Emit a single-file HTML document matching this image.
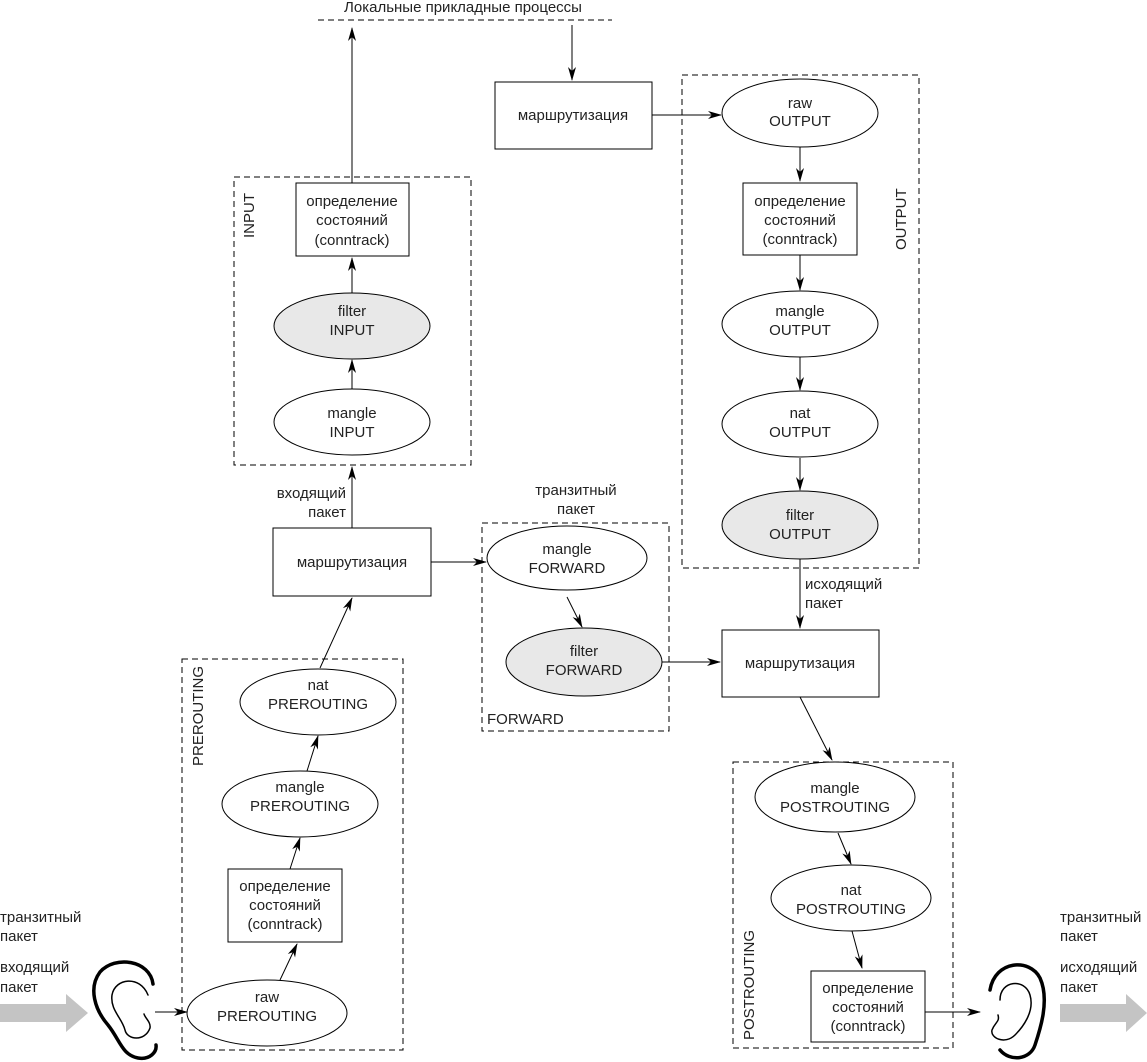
<!DOCTYPE html>
<html><head><meta charset="utf-8"><style>
html,body{margin:0;padding:0;background:#fff;}
svg{display:block;}
text{font-family:"Liberation Sans","DejaVu Sans",sans-serif;font-size:15px;fill:#222;}
</style></head><body>
<svg width="1147" height="1062" viewBox="0 0 1147 1062" xmlns="http://www.w3.org/2000/svg">
<defs>
<marker id="a" markerWidth="14" markerHeight="10" refX="13" refY="5" orient="auto" markerUnits="userSpaceOnUse">
<path d="M0,1 L14,5 L0,9 L4,5 Z" fill="#000"/>
</marker>
</defs>
<g fill="none" stroke="#000" stroke-width="1">
<g stroke-dasharray="6,4">
<line x1="318" y1="20" x2="612" y2="20"/>
<rect x="234" y="177" width="237" height="288"/>
<rect x="682" y="75" width="237" height="493"/>
<rect x="482" y="523" width="187" height="208"/>
<rect x="182" y="659" width="221" height="391"/>
<rect x="733" y="762" width="220" height="286"/>
</g>
<rect x="495" y="82" width="157" height="67"/>
<rect x="296" y="183" width="113" height="73"/>
<rect x="743" y="183" width="114" height="72"/>
<rect x="273" y="528" width="158" height="68"/>
<rect x="722" y="630" width="157" height="67"/>
<rect x="228" y="869" width="114" height="73"/>
<rect x="811" y="971" width="114" height="71"/>
<ellipse cx="800" cy="113" rx="78" ry="34"/>
<ellipse cx="800" cy="324" rx="78" ry="33"/>
<ellipse cx="800" cy="424" rx="78" ry="33"/>
<ellipse cx="800" cy="525" rx="78" ry="34" fill="#e8e8e8"/>
<ellipse cx="352" cy="326" rx="78" ry="33" fill="#e8e8e8"/>
<ellipse cx="352" cy="422" rx="78" ry="33"/>
<ellipse cx="567" cy="558" rx="80" ry="32"/>
<ellipse cx="584" cy="662" rx="78" ry="34" fill="#e8e8e8"/>
<ellipse cx="318" cy="702" rx="78" ry="33"/>
<ellipse cx="300" cy="804" rx="78" ry="33"/>
<ellipse cx="267" cy="1013" rx="80" ry="33"/>
<ellipse cx="835" cy="797" rx="80" ry="35"/>
<ellipse cx="851" cy="898" rx="80" ry="33"/>
<g marker-end="url(#a)">
<line x1="352" y1="183" x2="352" y2="28"/>
<line x1="572" y1="25" x2="572" y2="80"/>
<line x1="652" y1="115" x2="721" y2="115"/>
<line x1="800" y1="147" x2="800" y2="181"/>
<line x1="800" y1="255" x2="800" y2="290"/>
<line x1="800" y1="357" x2="800" y2="390"/>
<line x1="800" y1="458" x2="800" y2="490"/>
<line x1="800" y1="559" x2="800" y2="628"/>
<line x1="800" y1="697" x2="832" y2="760"/>
<line x1="838" y1="833" x2="851" y2="864"/>
<line x1="852" y1="931" x2="862" y2="968"/>
<line x1="925" y1="1012" x2="980" y2="1012"/>
<line x1="155" y1="1012" x2="187" y2="1012"/>
<line x1="280" y1="980" x2="297" y2="944"/>
<line x1="290" y1="869" x2="300" y2="838"/>
<line x1="307" y1="771" x2="318" y2="736"/>
<line x1="320" y1="668" x2="352" y2="598"/>
<line x1="352" y1="528" x2="352" y2="467"/>
<line x1="352" y1="389" x2="352" y2="360"/>
<line x1="352" y1="293" x2="352" y2="258"/>
<line x1="431" y1="562" x2="486" y2="562"/>
<line x1="567" y1="597" x2="582" y2="627"/>
<line x1="662" y1="662" x2="720" y2="662"/>
</g>
</g>
<path d="M0,1004 L66,1004 L66,994 L88,1013 L66,1032 L66,1022 L0,1022 Z" fill="#c4c4c4"/>
<path d="M1060,1004 L1126,1004 L1126,994 L1147,1013 L1126,1032 L1126,1022 L1060,1022 Z" fill="#c4c4c4"/>
<g fill="none" stroke="#000" stroke-linecap="round">
<path d="M153,984 C150,960 115,955 100,972 C88,988 95,1010 108,1025 C120,1040 122,1055 138,1058 C150,1060 157,1052 156,1045" stroke-width="3.5"/>
<path d="M148,995 C140,975 115,978 112,995 C110,1010 122,1018 125,1030 C127,1040 145,1042 150,1028 C151,1022 145,1018 144,1014" stroke-width="1.5"/>
<path d="M990,990 C995,960 1030,958 1040,978 C1050,1000 1040,1030 1035,1045 C1030,1060 1010,1062 1000,1050" stroke-width="3.5"/>
<path d="M1000,1000 C1000,980 1025,978 1030,995 C1035,1012 1022,1028 1015,1035 C1005,1045 990,1038 992,1030 C995,1022 1000,1022 998,1015" stroke-width="1.5"/>
</g>
<g text-anchor="middle">
<text x="463" y="12">Локальные прикладные процессы</text>
<text x="573" y="120">маршрутизация</text>
<text x="800" y="108">raw</text><text x="800" y="126">OUTPUT</text>
<text x="800" y="206">определение</text><text x="800" y="225">состояний</text><text x="800" y="244">(conntrack)</text>
<text x="800" y="316">mangle</text><text x="800" y="335">OUTPUT</text>
<text x="800" y="418">nat</text><text x="800" y="437">OUTPUT</text>
<text x="800" y="520">filter</text><text x="800" y="539">OUTPUT</text>
<text x="352" y="206">определение</text><text x="352" y="225">состояний</text><text x="352" y="245">(conntrack)</text>
<text x="352" y="316">filter</text><text x="352" y="335">INPUT</text>
<text x="352" y="418">mangle</text><text x="352" y="437">INPUT</text>
<text x="352" y="567">маршрутизация</text>
<text x="576" y="495">транзитный</text><text x="576" y="514">пакет</text>
<text x="567" y="554">mangle</text><text x="567" y="573">FORWARD</text>
<text x="584" y="656">filter</text><text x="584" y="675">FORWARD</text>
<text x="800" y="668">маршрутизация</text>
<text x="318" y="690">nat</text><text x="318" y="709">PREROUTING</text>
<text x="300" y="792">mangle</text><text x="300" y="811">PREROUTING</text>
<text x="285" y="891">определение</text><text x="285" y="910">состояний</text><text x="285" y="929">(conntrack)</text>
<text x="267" y="1002">raw</text><text x="267" y="1021">PREROUTING</text>
<text x="835" y="793">mangle</text><text x="835" y="812">POSTROUTING</text>
<text x="851" y="895">nat</text><text x="851" y="914">POSTROUTING</text>
<text x="868" y="993">определение</text><text x="868" y="1012">состояний</text><text x="868" y="1031">(conntrack)</text>
</g>
<text x="346" y="498" text-anchor="end">входящий</text>
<text x="346" y="517" text-anchor="end">пакет</text>
<text x="805" y="589">исходящий</text>
<text x="805" y="608">пакет</text>
<text x="487" y="724">FORWARD</text>
<text x="0" y="922">транзитный</text><text x="0" y="941">пакет</text>
<text x="0" y="972">входящий</text><text x="0" y="992">пакет</text>
<text x="1060" y="922">транзитный</text><text x="1060" y="941">пакет</text>
<text x="1060" y="972">исходящий</text><text x="1060" y="992">пакет</text>
<text transform="translate(254,238) rotate(-90)">INPUT</text>
<text transform="translate(906,250) rotate(-90)">OUTPUT</text>
<text transform="translate(203,766) rotate(-90)">PREROUTING</text>
<text transform="translate(754,1040) rotate(-90)">POSTROUTING</text>
</svg>
</body></html>
